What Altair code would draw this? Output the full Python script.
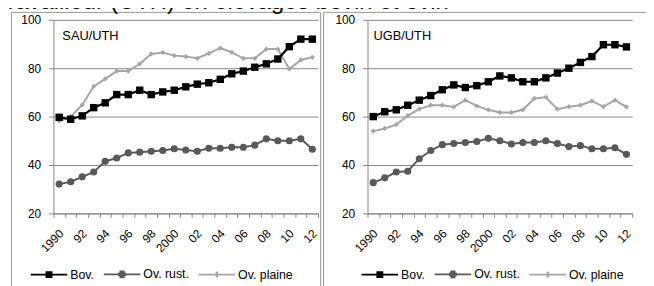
import math
import altair as alt
import pandas as pd

# ---------------- data ----------------
years = list(range(1990, 2013))
series_names = ["Bov.", "Ov. rust.", "Ov. plaine"]
series_colors = ["#000000", "#595959", "#a6a6a6"]
draw_order = ["Ov. plaine", "Ov. rust.", "Bov."]

sau_bov = [59.7, 58.9, 60.3, 63.7, 65.7, 69.1, 69.1, 70.9, 69.1, 70.2, 70.9, 72.3,
           73.4, 74.0, 75.4, 77.7, 78.8, 80.4, 81.8, 83.8, 88.9, 92.0, 92.0]
sau_rust = [32.1, 33.1, 35.1, 37.1, 41.5, 42.9, 45.0, 45.3, 45.7, 46.0, 46.7, 46.2,
            45.7, 46.9, 46.9, 47.3, 47.3, 48.2, 50.8, 50.0, 50.0, 50.8, 46.5]
sau_plaine = [58.2, 60.0, 64.8, 72.5, 75.6, 78.8, 78.8, 81.8, 85.9, 86.5, 85.2, 84.8,
              84.1, 86.1, 88.3, 86.5, 84.1, 84.1, 87.9, 87.9, 79.7, 83.4, 84.5]

ugb_bov = [60.0, 62.0, 62.8, 64.7, 66.8, 68.7, 71.1, 73.1, 72.0, 72.8, 74.4, 76.8,
           76.0, 74.4, 74.4, 76.0, 78.0, 80.0, 82.4, 84.8, 89.7, 89.7, 88.8]
ugb_rust = [32.7, 34.7, 37.1, 37.4, 42.6, 46.0, 48.4, 48.9, 49.3, 49.7, 51.0, 50.0,
            48.7, 49.3, 49.3, 50.0, 48.9, 47.6, 48.0, 46.7, 46.7, 47.1, 44.4]
ugb_plaine = [54.0, 55.1, 56.7, 60.4, 63.1, 64.7, 64.7, 64.0, 66.8, 64.4, 62.8, 61.7,
              61.7, 62.8, 67.5, 68.0, 63.1, 64.1, 64.7, 66.4, 64.1, 66.8, 64.0]

tick_labels = ["1990", "", "92", "", "94", "", "96", "", "98", "", "2000", "",
               "02", "", "04", "", "06", "", "08", "", "10", "", "12"]
y_ticks = [20, 40, 60, 80, 100]

panel_labels = ["SAU/UTH", "UGB/UTH"]
title_text = "travailleur (UTH) en élevages bovin et ovin"

# ---------------- style ----------------
FONT = "Liberation Sans"
GRAY = "#868686"
FRAME = "#9a9a9a"
marker_shapes = {"Bov.": "square", "Ov. rust.": "circle", "Ov. plaine": "diamond"}
marker_sizes = {"Bov.": 56, "Ov. rust.": 52, "Ov. plaine": 28}
line_widths = {"Bov.": 2.2, "Ov. rust.": 2.0, "Ov. plaine": 2.0}
color_of = dict(zip(series_names, series_colors))

label_expr = " : ".join(
    f"datum.value == {y} ? '{t}'" for y, t in zip(years, tick_labels) if t
) + " : ''"

# legend symbols: a line with a marker, drawn only with strokes (rows of short segments)
SYM_W = 37.0


def u(p):
    return "%.4f" % (p / (SYM_W / 2))


def rows_path(rows):
    d = "M-1,0H1"
    for y, hw in rows:
        d += "M" + u(-hw) + "," + u(y) + "H" + u(hw)
    return d


sq = rows_path([(-2.5, 3.5), (-0.85, 3.5), (0.85, 3.5), (2.5, 3.5)])
circ = rows_path([(-3.0, 2.6), (-1.0, 3.9), (1.0, 3.9), (3.0, 2.6)])
dia = rows_path([(-2.0, 1.2), (0.0, 3.0), (2.0, 1.2)])
shape_expr = f"datum.value === 'Bov.' ? '{sq}' : datum.value === 'Ov. rust.' ? '{circ}' : '{dia}'"


def make_legend(lx):
    return alt.Legend(
        orient="none", legendX=lx, legendY=238, direction="horizontal", title=None,
        symbolSize=SYM_W * SYM_W, symbolType={"expr": shape_expr}, symbolStrokeWidth=2,
        symbolOpacity=1,
        labelFont=FONT, labelFontSize=12.5, labelColor="#000000",
        labelOffset=2, columnPadding=5, padding=0,
    )


def make_panel(data, label, lx, frame_x, frame_x2, label_x):
    xenc = alt.X("year:O",
                 scale=alt.Scale(type="band", paddingInner=0, paddingOuter=0),
                 axis=alt.Axis(title=None, labelExpr=label_expr, labelAngle=315,
                               labelAlign="right", labelBaseline="middle",
                               labelPadding=14, labelOffset=2, labelOverlap=False,
                               tickBand="extent", tickSize=4, tickColor=GRAY,
                               domainColor=GRAY, grid=False, labelFont=FONT,
                               labelFontSize=12, labelColor="#000000"))
    yenc = alt.Y("value:Q",
                 scale=alt.Scale(domain=[20, 100], nice=False, zero=False),
                 axis=alt.Axis(title=None, values=y_ticks, grid=True, gridColor=GRAY,
                               tickColor=GRAY, tickSize=5, domainColor=GRAY,
                               labelPadding=8, labelFont=FONT, labelFontSize=12,
                               labelColor="#000000"))
    layers = []
    frame_df = pd.DataFrame({"k": [0]})
    layers.append(alt.Chart(frame_df).mark_rect(fillOpacity=0, stroke=FRAME, strokeWidth=1).encode(
        x=alt.value(frame_x), x2=alt.value(frame_x2), y=alt.value(-7.5), y2=alt.value(400)))
    for s in draw_order:
        df = pd.DataFrame({"year": years, "value": data[s], "series": s})
        base = alt.Chart(df)
        layers.append(base.mark_line(strokeWidth=line_widths[s]).encode(
            x=xenc, y=yenc,
            color=alt.Color("series:N", scale=alt.Scale(domain=series_names, range=series_colors),
                            legend=make_legend(lx))))
        layers.append(base.mark_point(filled=True, opacity=1, shape=marker_shapes[s],
                                      size=marker_sizes[s]).encode(
            x=xenc, y=yenc, color=alt.value(color_of[s])))
    layers.append(alt.Chart(frame_df).mark_text(align="left", baseline="middle", font=FONT,
                                                fontSize=13, color="#000000").encode(
        x=alt.value(label_x), y=alt.value(16), text=alt.value(label)))
    return alt.layer(*layers).properties(width=268, height=196)


left = make_panel({"Bov.": sau_bov, "Ov. rust.": sau_rust, "Ov. plaine": sau_plaine},
                  panel_labels[0], -24, -42.5, 270.5, 9)
title_layer = alt.Chart(pd.DataFrame({"k": [0]})).mark_text(
    align="left", baseline="alphabetic", font=FONT, fontSize=24, color="#000000").encode(
    x=alt.value(-53), y=alt.value(-11), text=alt.value(title_text))
left = alt.layer(left, title_layer)
right = make_panel({"Bov.": ugb_bov, "Ov. rust.": ugb_rust, "Ov. plaine": ugb_plaine},
                   panel_labels[1], -7, -44.5, 400, 6)

chart = alt.hconcat(left, right, spacing=50, bounds="flush").resolve_scale(
    color="shared").resolve_legend(color="independent").properties(
    autosize=alt.AutoSizeParams(type="none"),
    padding={"left": 46, "top": 9, "right": 600, "bottom": 267},
).configure_view(stroke="transparent")

chart.save("out.html", embed_options={"renderer": "svg", "actions": False})
